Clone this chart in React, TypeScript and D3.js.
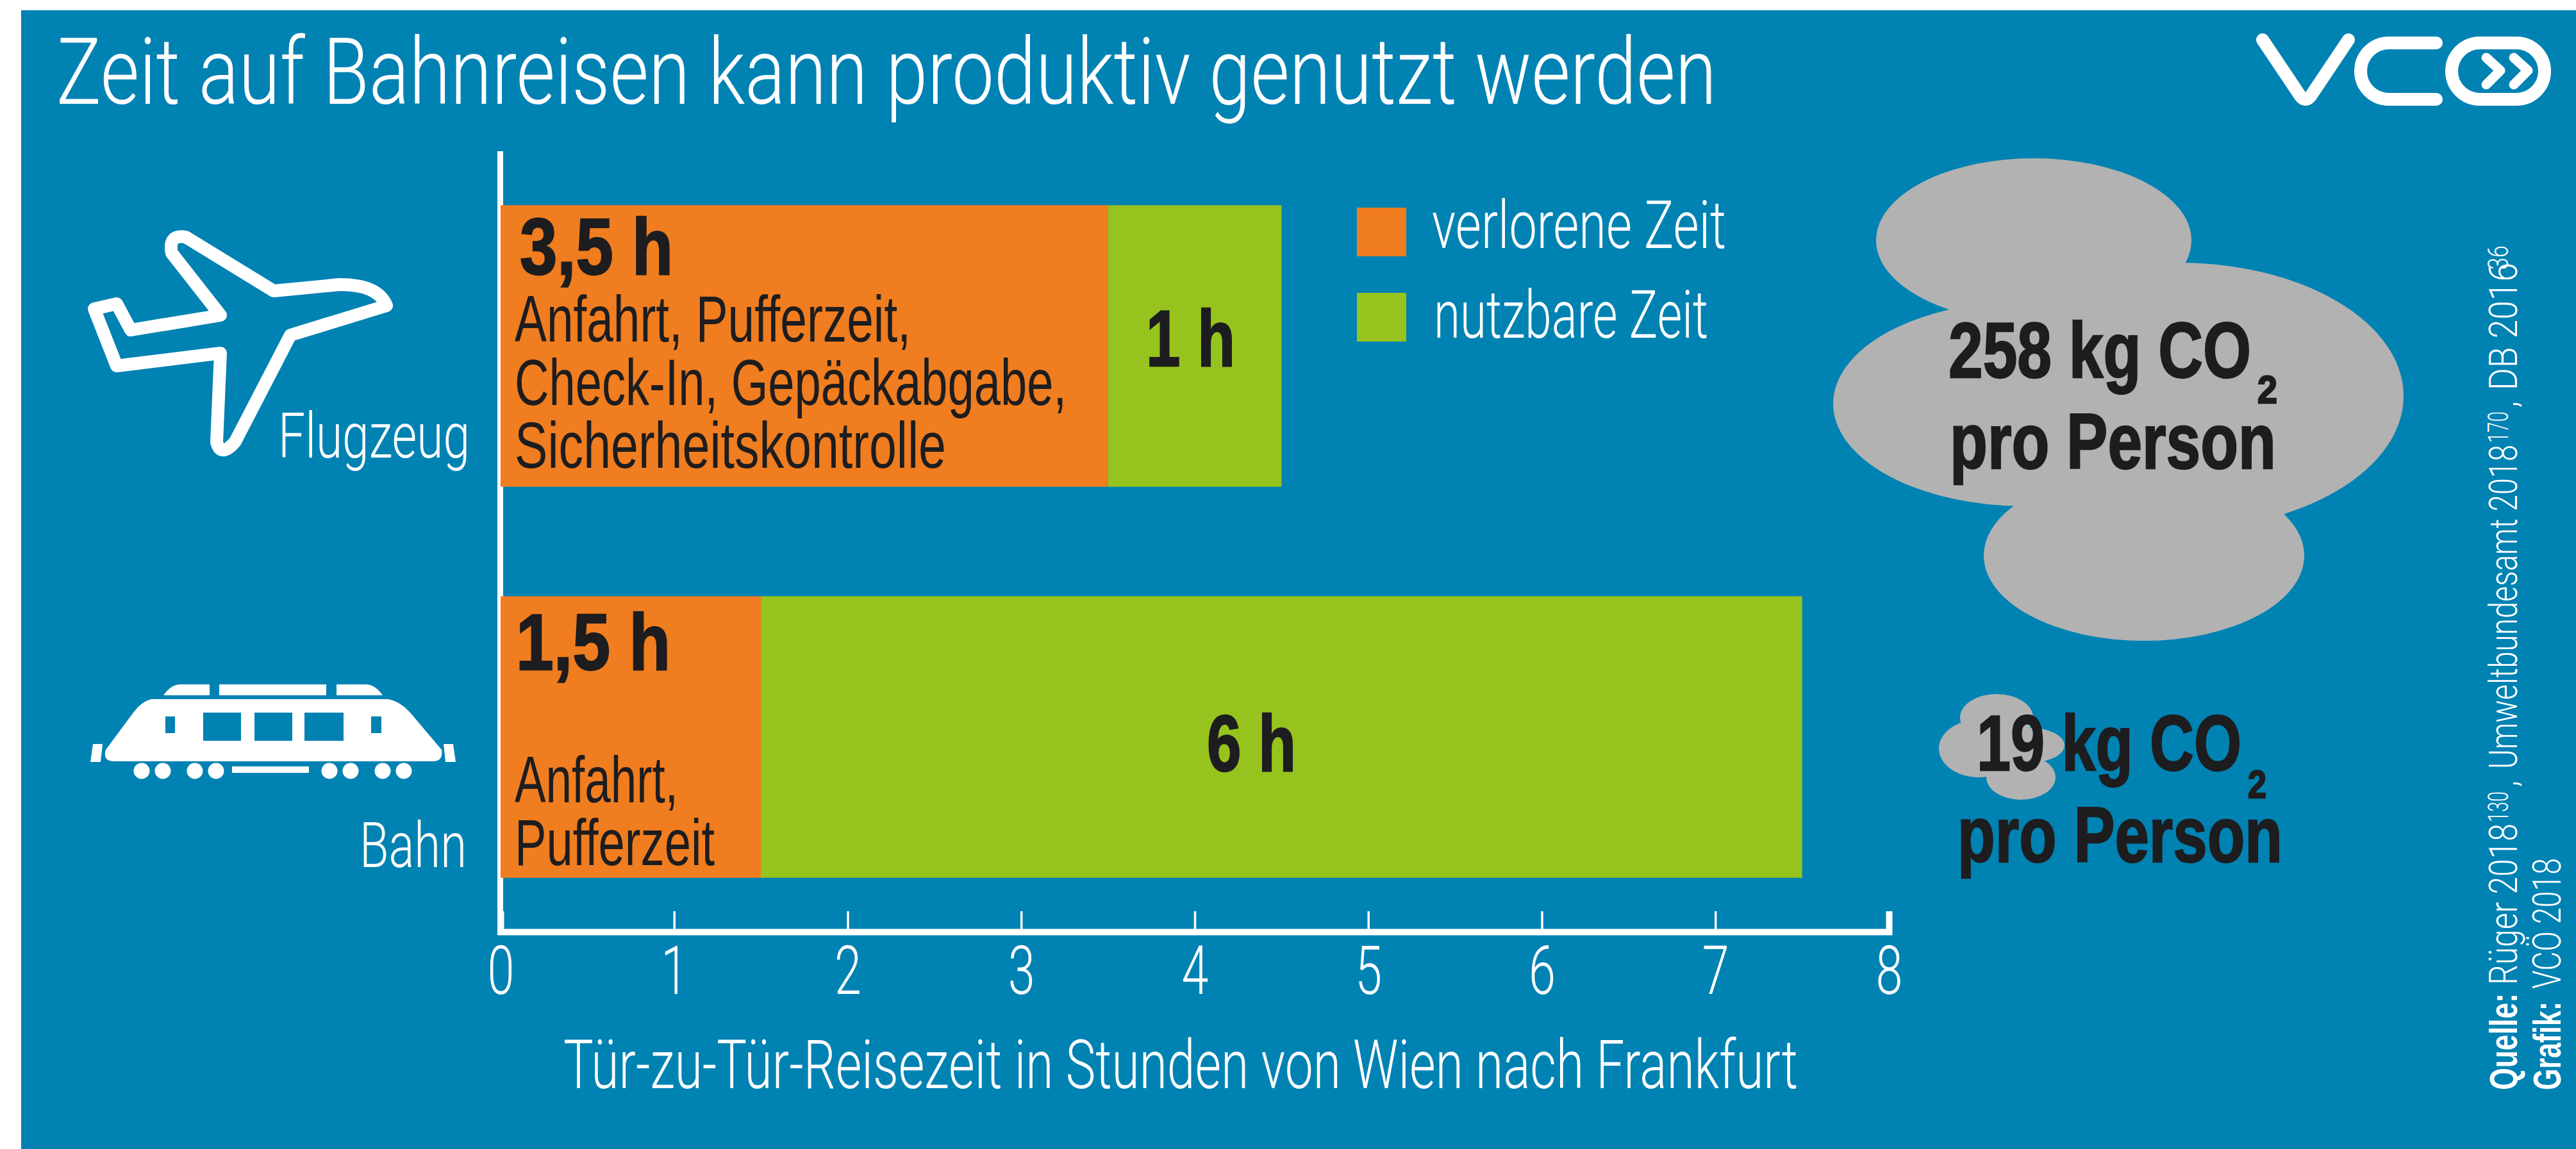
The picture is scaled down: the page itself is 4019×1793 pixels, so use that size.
import React, { useEffect, useRef } from 'react';
import * as d3 from 'd3';

const modes = ['Flugzeug', 'Bahn'];
const lostHours = [3.5, 1.5];
const usableHours = [1, 6];
const hourTicks = [0, 1, 2, 3, 4, 5, 6, 7, 8];
const legendLabels = ['verlorene Zeit', 'nutzbare Zeit'];
const lostLabels = ['3,5 h', '1,5 h'];
const usableLabels = ['1 h', '6 h'];
const co2Labels = ['258 kg CO', '19 kg CO'];

const W = 4019, H = 1793;
const BLUE = '#0082b3', ORANGE = '#f07d1f', GREEN = '#96c31d', GREY = '#b2b2b2', DARK = '#1d1d1f';
const LIGHT_FONT = 'Roboto, sans-serif';
const DARK_FONT = '"Liberation Sans", Arial, sans-serif';
const BOLD_FONT = '"Liberation Sans Narrow", "Liberation Sans", sans-serif';

function App() {
  const ref = useRef<SVGSVGElement>(null);

  useEffect(() => {
    const svg = d3.select(ref.current);
    svg.selectAll('*').remove();

    // helper: text squeezed to the width measured in the picture
    const label = (g: any, s: string, x: number, y: number, w: number, size: number, weight = 300, fill = 'white') => {
      const t = g.append('text')
        .text(s)
        .attr('x', x)
        .attr('y', y)
        .attr('textLength', w)
        .attr('lengthAdjust', 'spacingAndGlyphs')
        .attr('font-family', weight >= 700 ? BOLD_FONT : weight >= 400 ? DARK_FONT : LIGHT_FONT)
        .attr('font-size', size)
        .attr('font-weight', weight)
        .attr('fill', fill);
      // the bold in the picture is heavier than the narrow bold here
      if (weight >= 700 && fill !== 'white') t.attr('stroke', fill).attr('stroke-width', 2.5);
      return t;
    };

    svg.append('rect').attr('x', 33).attr('y', 16).attr('width', W - 33).attr('height', H - 16).attr('fill', BLUE);

    label(svg, 'Zeit auf Bahnreisen kann produktiv genutzt werden', 88, 162, 2590, 145);

    // scales
    const x = d3.scaleLinear().domain([0, 8]).range([781, 2947]);
    const y = d3.scaleBand().domain(modes).range([236, 1454]).paddingInner(0.28).paddingOuter(0.138);

    // y axis line first, the bars sit over its right half
    svg.append('line')
      .attr('x1', 780.5).attr('x2', 780.5).attr('y1', 236).attr('y2', 1459)
      .attr('stroke', 'white').attr('stroke-width', 9);

    // bars
    const rows = modes.map((m, i) => ({ mode: m, lost: lostHours[i], usable: usableHours[i] }));
    const stack = d3.stack<any>().keys(['lost', 'usable'])(rows);
    const colors = [ORANGE, GREEN];
    stack.forEach((layer, k) => {
      svg.append('g').attr('fill', colors[k])
        .selectAll('rect')
        .data(layer)
        .enter()
        .append('rect')
        .attr('x', (d: any) => x(d[0]))
        .attr('y', (d: any) => y(d.data.mode)!)
        .attr('width', (d: any) => x(d[1]) - x(d[0]))
        .attr('height', y.bandwidth());
    });

    // x axis
    const axis = svg.append('g')
      .attr('transform', 'translate(0,1454)')
      .call(d3.axisBottom(x).tickValues(hourTicks).tickFormat(d3.format('d') as any).tickSizeOuter(0).tickSize(-32));
    axis.select('.domain').attr('stroke', 'white').attr('stroke-width', 10);
    axis.selectAll('.tick line').attr('stroke', 'white').attr('stroke-width', 3.5);
    axis.selectAll('.tick text')
      .attr('y', 97).attr('dy', 0)
      .attr('fill', 'white')
      .attr('font-family', LIGHT_FONT)
      .attr('font-size', 106)
      .attr('font-weight', 300)
      .attr('textLength', 42)
      .attr('lengthAdjust', 'spacingAndGlyphs');

    label(svg, 'Tür-zu-Tür-Reisezeit in Stunden von Wien nach Frankfurt', 879, 1698, 1926, 105);

    // category labels
    label(svg, modes[0], 434, 714, 299, 98);
    label(svg, modes[1], 561, 1353, 167, 98);

    // bar texts
    label(svg, lostLabels[0], 811, 428, 239, 124, 700, DARK);
    label(svg, 'Anfahrt, Pufferzeit,', 803, 533, 618, 102, 400, DARK);
    label(svg, 'Check-In, Gepäckabgabe,', 803, 632, 861, 102, 400, DARK);
    label(svg, 'Sicherheitskontrolle', 803, 730, 673, 102, 400, DARK);
    label(svg, usableLabels[0], 1788, 571, 139, 124, 700, DARK);

    label(svg, lostLabels[1], 805, 1045, 241, 124, 700, DARK);
    label(svg, 'Anfahrt,', 803, 1252, 255, 102, 400, DARK);
    label(svg, 'Pufferzeit', 803, 1350, 312, 102, 400, DARK);
    label(svg, usableLabels[1], 1883, 1203, 139, 124, 700, DARK);

    // legend
    const legendY = [324, 457];
    legendLabels.forEach((s, i) => {
      svg.append('rect').attr('x', 2117).attr('y', legendY[i]).attr('width', 77).attr('height', 76).attr('fill', colors[i]);
    });
    label(svg, legendLabels[0], 2234, 387, 459, 104);
    label(svg, legendLabels[1], 2237, 527, 428, 104);

    // clouds
    const cloudBig = [[3173, 375, 246, 128], [3160, 630, 300, 160], [3400, 618, 350, 208], [3345, 867, 250, 133]];
    const cloudSmall = [[3115, 1120, 57, 37], [3087, 1168, 62, 45], [3168, 1163, 53, 27], [3153, 1213, 54, 35]];
    [cloudBig, cloudSmall].forEach(c => {
      svg.append('g').attr('fill', GREY)
        .selectAll('ellipse')
        .data(c)
        .enter()
        .append('ellipse')
        .attr('cx', d => d[0]).attr('cy', d => d[1]).attr('rx', d => d[2]).attr('ry', d => d[3]);
    });

    label(svg, co2Labels[0], 3040, 589, 472, 122, 700, DARK);
    label(svg, '2', 3522, 629, 31, 62, 700, DARK);
    label(svg, 'pro Person', 3042, 731, 509, 122, 700, DARK);
    label(svg, co2Labels[1], 3084, 1202, 413, 122, 700, DARK);
    label(svg, '2', 3507, 1245, 29, 62, 700, DARK);
    label(svg, 'pro Person', 3054, 1345, 507, 122, 700, DARK);

    // source, rotated
    const side = (s: string, bx: number, from: number, to: number, size: number, weight: number) => {
      label(svg, s, 0, 0, from - to, size, weight).attr('transform', `translate(${bx},${from}) rotate(-90)`);
    };
    side('Quelle:', 3927, 1701, 1550, 61, 700);
    side('Rüger 2018', 3927, 1537, 1285, 62, 300);
    side('130', 3913, 1283, 1235, 44, 300);
    side(',', 3927, 1228, 1218, 62, 300);
    side('Umweltbundesamt 2018', 3927, 1200, 694, 62, 300);
    side('170', 3913, 691, 642, 44, 300);
    side(',', 3927, 636, 626, 62, 300);
    side('DB 2016', 3927, 609, 410, 62, 300);
    side('36', 3913, 421, 383, 44, 300);
    side('Grafik:', 3995, 1701, 1563, 61, 700);
    side('VCÖ 2018', 3995, 1543, 1339, 62, 300);

    // plane icon
    svg.append('path')
      .attr('d', 'M290 370 L427 454 L530 444 Q590 444 603 477 L453 523 L367 689 Q345 715 338 690 L344 551 L182 571 L147 482 L182 474 L204 515 L344 492 L268 395 Q262 365 290 370 Z')
      .attr('fill', 'none').attr('stroke', 'white').attr('stroke-width', 20).attr('stroke-linejoin', 'round');

    // train icon
    const train = svg.append('g').attr('fill', 'white');
    train.append('path').attr('d', 'M236 1091 L606 1091 Q625 1095 640 1112 L689 1170 Q692 1188 675 1188 L178 1188 Q160 1188 165 1170 L208 1112 Q220 1095 236 1091 Z');
    [[317, 1112, 59, 44], [397, 1112, 59, 44], [475, 1112, 61, 44], [258, 1118, 15, 26], [579, 1118, 16, 26]].forEach(r => {
      train.append('rect').attr('x', r[0]).attr('y', r[1]).attr('width', r[2]).attr('height', r[3]).attr('fill', BLUE);
    });
    train.append('path').attr('d', 'M255 1085 Q266 1069 280 1068 L327 1068 L327 1085 Z');
    train.append('rect').attr('x', 342).attr('y', 1068).attr('width', 167).attr('height', 17);
    train.append('path').attr('d', 'M525 1068 L572 1068 Q586 1069 597 1085 L525 1085 Z');
    train.append('path').attr('d', 'M145 1161 L160 1161 L157 1189 L141 1189 Z');
    train.append('path').attr('d', 'M692 1161 L707 1161 L711 1189 L695 1189 Z');
    [221, 254, 304, 337, 514, 547, 597, 630].forEach(cx => {
      train.append('circle').attr('cx', cx).attr('cy', 1203).attr('r', 12.5);
    });
    train.append('rect').attr('x', 362).attr('y', 1196).attr('width', 120).attr('height', 10);

    // logo
    const logo = svg.append('g').attr('fill', 'none').attr('stroke', 'white').attr('stroke-width', 20).attr('stroke-linecap', 'round').attr('stroke-linejoin', 'round');
    logo.append('path').attr('d', 'M3530 62 L3589 150 Q3597 160 3605 150 L3664 62');
    logo.append('path').attr('d', 'M3801 67 L3727 67 A44 44 0 0 0 3727 155 L3801 155');
    logo.append('rect').attr('x', 3825).attr('y', 67).attr('width', 145).attr('height', 88).attr('rx', 44);
    logo.append('path').attr('stroke-width', 15).attr('d', 'M3879 90 L3901 110 L3879 132 M3922 90 L3944 110 L3922 132');
  }, []);

  return <svg ref={ref} width={W} height={H} style={{ position: 'fixed', left: 0, top: 0, background: 'white' }} />;
}

export default App;
